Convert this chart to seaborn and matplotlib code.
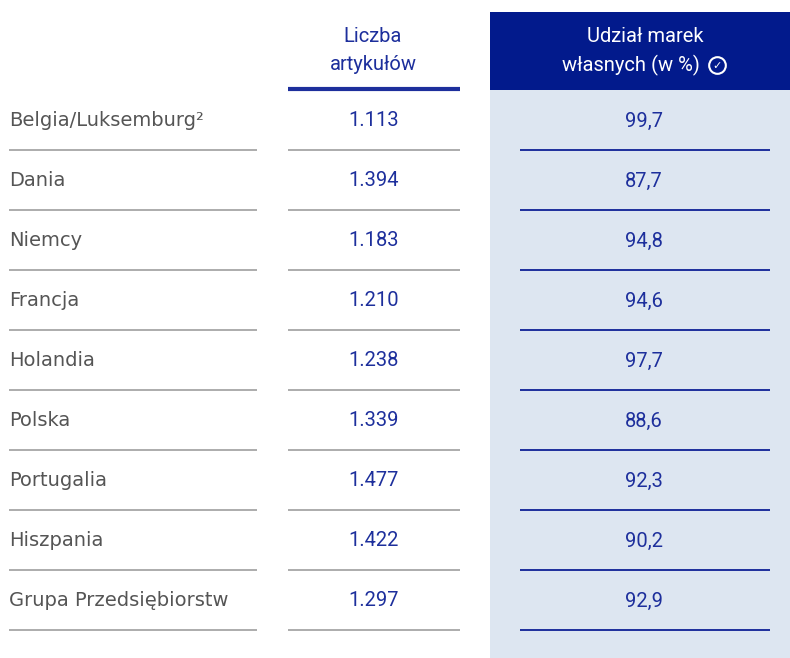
import numpy as np
import matplotlib
matplotlib.use("Agg")
import matplotlib.pyplot as plt
import seaborn as sns

# data
countries = ["Belgia/Luksemburg²", "Dania", "Niemcy", "Francja", "Holandia",
             "Polska", "Portugalia", "Hiszpania", "Grupa Przedsiębiorstw"]
articles = [1113, 1394, 1183, 1210, 1238, 1339, 1477, 1422, 1297]
own_brand_share = [99.7, 87.7, 94.8, 94.6, 97.7, 88.6, 92.3, 90.2, 92.9]
header_articles = ["Liczba", "artykułów"]
header_share = ["Udział marek", "własnych (w %)"]

NAVY = "#021a8c"
BLUE = "#1d2f9c"
PANEL = "#dde6f1"
GREY = "#a6a6a6"
TEXT = "#555555"

sns.set_theme(style="white")
plt.rcParams["font.family"] = ["DejaVu Sans"]
num_font = ["Roboto", "DejaVu Sans"]

fig = plt.figure(figsize=(7.9, 6.58), dpi=100)
ax = fig.add_axes([0, 0, 1, 1])
ax.set_xlim(0, 790)
ax.set_ylim(658, 0)
ax.axis("off")

# highlighted column background
ax.add_patch(plt.Rectangle((490, 12), 300, 78, color=NAVY, lw=0))
ax.add_patch(plt.Rectangle((490, 90), 300, 568, color=PANEL, lw=0))

# headers
for y, line in zip([37, 65], header_articles):
    ax.text(373, y, line, ha="center", va="center", fontsize=14.5,
            color=BLUE, family=num_font)
ax.text(645, 37, header_share[0], ha="center", va="center", fontsize=14.5,
        color="white", family=num_font)
ax.text(631, 65, header_share[1], ha="center", va="center", fontsize=14.5,
        color="white", family=num_font)
ax.plot(717, 65, marker="o", ms=12, mfc="none", mec="white", mew=1.5)
ax.text(717, 65.5, "✓", ha="center", va="center", fontsize=8, color="white",
        family="DejaVu Sans", fontweight="bold")
ax.hlines(89, 288, 460, color=BLUE, lw=3)

row_y = 121 + 60 * np.arange(len(countries))
for y, name, n, pct in zip(row_y, countries, articles, own_brand_share):
    ax.text(9, y, name, ha="left", va="center", fontsize=14, color=TEXT)
    ax.text(374, y, f"{n:,}".replace(",", "."), ha="center", va="center",
            fontsize=14.5, color=BLUE, family=num_font)
    ax.text(644, y, f"{pct:.1f}".replace(".", ","), ha="center", va="center",
            fontsize=14.5, color=BLUE, family=num_font)
    ax.hlines(y + 29, 9, 257, color=GREY, lw=1.3)
    ax.hlines(y + 29, 288, 460, color=GREY, lw=1.3)
    ax.hlines(y + 29, 520, 770, color=BLUE, lw=1.4)

fig.savefig("out.png", dpi=100)
